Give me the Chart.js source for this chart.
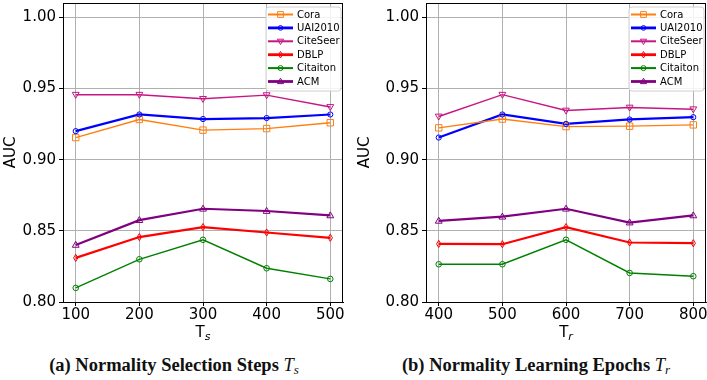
<!DOCTYPE html>
<html>
<head>
<meta charset="utf-8">
<script src="https://cdn.jsdelivr.net/npm/chart.js@4/dist/chart.umd.min.js"></script>
<style>
  html, body { margin:0; padding:0; background:#fff; }
  body { width:707px; height:380px; position:relative; overflow:hidden; }
  .box { position:absolute; top:0; height:340px; }
  .cap { position:absolute; top:355px; transform:translateX(-50%); white-space:nowrap;
         font-family:"Liberation Serif","DejaVu Serif",serif; font-weight:bold; font-size:18.5px; color:#111; }
  .cap i { font-weight:normal; font-style:italic; }
  .cap sub { font-size:13px; vertical-align:-3px; line-height:0; }
</style>
</head>
<body>
<div class="box" style="left:0;width:354px"><canvas id="c1"></canvas></div>
<div class="box" style="left:354px;width:353px"><canvas id="c2"></canvas></div>
<div class="cap" style="left:174px">(a) Normality Selection Steps <i>T<sub>s</sub></i></div>
<div class="cap" style="left:536px">(b) Normality Learning Epochs <i>T<sub>r</sub></i></div>
<script>
// ---- data ----
const xTs = [100, 200, 300, 400, 500];
const xTr = [400, 500, 600, 700, 800];
const yTicks = [0.80, 0.85, 0.90, 0.95, 1.00];
const names = ['Cora', 'UAI2010', 'CiteSeer', 'DBLP', 'Citaiton', 'ACM'];

const coraTs     = [0.9155, 0.9282, 0.9207, 0.9218, 0.9259];
const uaiTs      = [0.9200, 0.9317, 0.9285, 0.9292, 0.9317];
const citeseerTs = [0.9456, 0.9456, 0.9427, 0.9453, 0.9370];
const dblpTs     = [0.8310, 0.8456, 0.8526, 0.8488, 0.8451];
const citationTs = [0.8099, 0.8300, 0.8437, 0.8237, 0.8162];
const acmTs      = [0.8401, 0.8575, 0.8655, 0.8639, 0.8608];

const coraTr     = [0.9223, 0.9285, 0.9232, 0.9235, 0.9244];
const uaiTr      = [0.9155, 0.9317, 0.9251, 0.9282, 0.9298];
const citeseerTr = [0.9303, 0.9456, 0.9345, 0.9366, 0.9354];
const dblpTr     = [0.8408, 0.8406, 0.8526, 0.8418, 0.8413];
const citationTr = [0.8265, 0.8265, 0.8437, 0.8204, 0.8181];
const acmTr      = [0.8570, 0.8599, 0.8655, 0.8558, 0.8608];

// ---- styles ----
const styles = [
  { color:'#ff7f0e', width:1.4, marker:'square',  r:3.2 },
  { color:'#0000ff', width:2.2, marker:'circle',  r:2.6 },
  { color:'#c71585', width:1.4, marker:'tridown', r:3.6 },
  { color:'#ff0000', width:2.2, marker:'diamond', r:3.6 },
  { color:'#008000', width:1.4, marker:'circle',  r:2.8 },
  { color:'#800080', width:2.2, marker:'triup',   r:3.6 }
];

function drawMarker(ctx, type, x, y, r, color) {
  ctx.save();
  ctx.strokeStyle = color; ctx.lineWidth = 1;
  ctx.beginPath();
  if (type === 'square') { ctx.rect(x - r, y - r, 2*r, 2*r); }
  else if (type === 'circle') { ctx.arc(x, y, r, 0, Math.PI*2); }
  else if (type === 'triup') { ctx.moveTo(x, y - r); ctx.lineTo(x + r*0.95, y + r*0.65); ctx.lineTo(x - r*0.95, y + r*0.65); ctx.closePath(); }
  else if (type === 'tridown') { ctx.moveTo(x, y + r); ctx.lineTo(x + r*0.95, y - r*0.65); ctx.lineTo(x - r*0.95, y - r*0.65); ctx.closePath(); }
  else if (type === 'diamond') { ctx.moveTo(x, y - r); ctx.lineTo(x + r*0.6, y); ctx.lineTo(x, y + r); ctx.lineTo(x - r*0.6, y); ctx.closePath(); }
  ctx.stroke();
  ctx.restore();
}

const markerPlugin = {
  id:'markers',
  afterDatasetsDraw(chart) {
    const ctx = chart.ctx;
    chart.data.datasets.forEach((ds, i) => {
      const meta = chart.getDatasetMeta(i);
      const st = styles[i];
      meta.data.forEach(pt => drawMarker(ctx, st.marker, pt.x, pt.y, st.r, st.color));
    });
  }
};

const framePlugin = {
  id:'frame',
  afterDraw(chart) {
    const a = chart.chartArea, ctx = chart.ctx;
    ctx.save();
    ctx.strokeStyle = '#000'; ctx.lineWidth = 1;
    ctx.strokeRect(Math.round(a.left) + 0.5, Math.round(a.top) + 0.5, Math.round(a.right - a.left) - 1, Math.round(a.bottom - a.top));
    ctx.restore();
  }
};

const legendPlugin = {
  id:'mylegend',
  afterDraw(chart) {
    const a = chart.chartArea, ctx = chart.ctx;
    const w = 75, h = 84;
    const x0 = a.right - w - 2, y0 = a.top + 4;
    ctx.save();
    ctx.beginPath();
    if (ctx.roundRect) ctx.roundRect(x0, y0, w, h, 3); else ctx.rect(x0, y0, w, h);
    ctx.fillStyle = 'rgba(255,255,255,0.85)'; ctx.fill();
    ctx.strokeStyle = '#d0d0d0'; ctx.lineWidth = 1; ctx.stroke();
    ctx.font = '10px "DejaVu Sans"';
    ctx.textBaseline = 'middle'; ctx.textAlign = 'left';
    chart.data.datasets.forEach((ds, i) => {
      const st = styles[i];
      const y = y0 + 7.5 + i * 13.4;
      ctx.beginPath();
      ctx.strokeStyle = st.color; ctx.lineWidth = st.width + 0.6;
      ctx.moveTo(x0 + 2, y); ctx.lineTo(x0 + 27, y); ctx.stroke();
      drawMarker(ctx, st.marker, x0 + 14.5, y, st.r * 0.9, st.color);
      ctx.fillStyle = '#000';
      ctx.fillText(ds.label, x0 + 31, y + 0.5);
    });
    ctx.restore();
  }
};

function xTitlePlugin(sub) {
  return {
    id:'xtitle',
    afterDraw(chart) {
      const a = chart.chartArea, ctx = chart.ctx;
      const cx = (a.left + a.right) / 2, y = 332;
      ctx.save();
      ctx.fillStyle = '#000'; ctx.textBaseline = 'alphabetic'; ctx.textAlign = 'left';
      ctx.font = '15px "DejaVu Sans"';
      const wT = ctx.measureText('T').width;
      ctx.font = 'italic 11px "DejaVu Sans"';
      const wS = ctx.measureText(sub).width;
      const sx = cx - (wT + wS) / 2;
      ctx.font = '15px "DejaVu Sans"';
      ctx.fillText('T', sx, y + 5);
      ctx.font = 'italic 11px "DejaVu Sans"';
      ctx.fillText(sub, sx + wT, y + 8);
      ctx.restore();
    }
  };
}

function makeChart(id, xs, series, xmin, xmax, yWidth, padRight, sub) {
  const datasets = series.map((vals, i) => ({
    label: names[i],
    data: xs.map((x, k) => ({ x: x, y: vals[k] })),
    borderColor: styles[i].color,
    borderWidth: styles[i].width,
    pointRadius: 0,
    fill: false,
    tension: 0
  }));
  return new Chart(document.getElementById(id), {
    type:'line',
    data:{ datasets },
    plugins:[markerPlugin, framePlugin, legendPlugin, xTitlePlugin(sub)],
    options:{
      responsive:true, maintainAspectRatio:false, animation:false,
      layout:{ padding:{ top:3, right:padRight, left:0, bottom:0 } },
      plugins:{ legend:{ display:false }, tooltip:{ enabled:false } },
      scales:{
        x:{
          type:'linear', min:xmin, max:xmax,
          afterBuildTicks: s => { s.ticks = xs.map(v => ({ value:v })); },
          afterFit: s => { s.height = 38; s.paddingLeft = 0; s.paddingRight = 0; },
          grid:{ color:'#b0b0b0', lineWidth:1, tickColor:'#000', tickLength:4, drawTicks:true },
          border:{ color:'#000', width:1 },
          ticks:{ font:{ family:'DejaVu Sans', size:15 }, color:'#000', padding:0, maxRotation:0, autoSkip:false,
                  callback: v => String(v) }
        },
        y:{
          type:'linear', min:0.80, max:1.01,
          afterBuildTicks: s => { s.ticks = yTicks.map(v => ({ value:v })); },
          afterFit: s => { s.width = yWidth; s.paddingTop = 0; s.paddingBottom = 0; },
          grid:{ color:'#b0b0b0', lineWidth:1, tickColor:'#000', tickLength:4, drawTicks:true },
          border:{ color:'#000', width:1 },
          title:{ display:true, text:'AUC', font:{ family:'DejaVu Sans', size:15 }, color:'#000', padding:{ top:2, bottom:0 } },
          ticks:{ font:{ family:'DejaVu Sans', size:15 }, color:'#000', padding:3, callback: v => Number(v).toFixed(2) }
        }
      }
    }
  });
}

makeChart('c1', xTs, [coraTs, uaiTs, citeseerTs, dblpTs, citationTs, acmTs], 80, 520, 63, 11, 's');
makeChart('c2', xTr, [coraTr, uaiTr, citeseerTr, dblpTr, citationTr, acmTr], 380, 820, 72, 1, 'r');
</script>
</body>
</html>
